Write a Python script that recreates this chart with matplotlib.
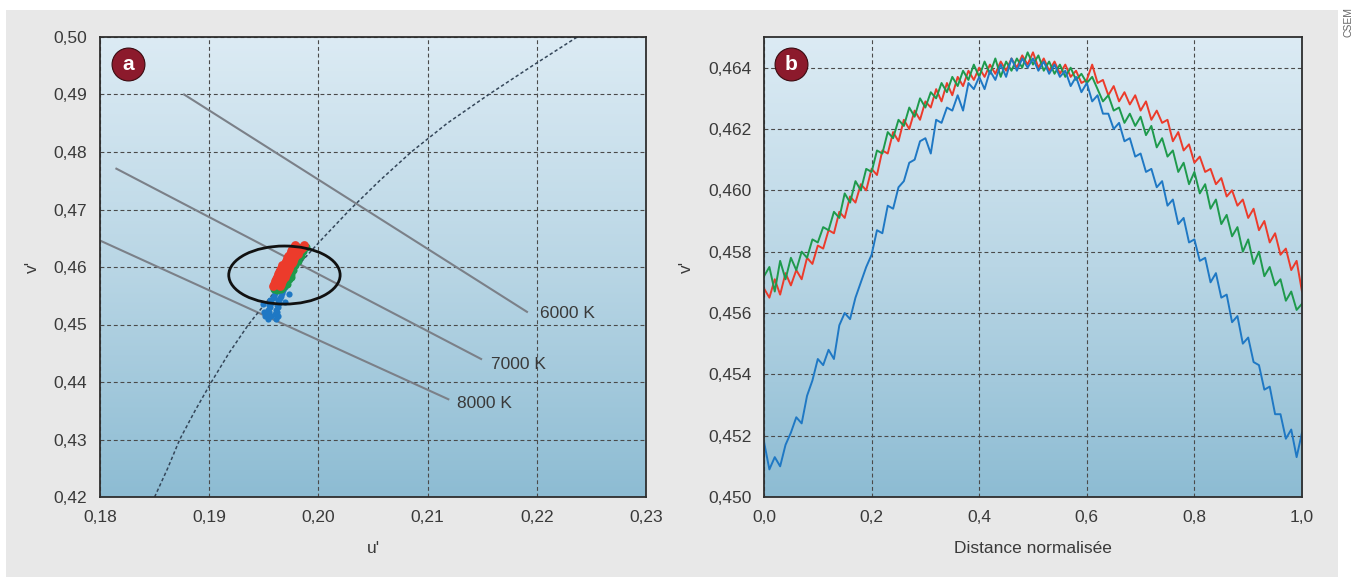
import numpy as np
import matplotlib.pyplot as plt
from matplotlib.patches import Ellipse, Rectangle
from matplotlib.ticker import FuncFormatter
from matplotlib.colors import LinearSegmentedColormap

plt.rcParams['font.family'] = ['Liberation Sans', 'DejaVu Sans']

# ---- panel a : chromaticity diagram (u', v') ----
iso_names = ['6000 K', '7000 K', '8000 K']
iso_u = [[0.1877, 0.2191], [0.1815, 0.2149], [0.1800, 0.2119]]
iso_v = [[0.4900, 0.4522], [0.4771, 0.4440], [0.4646, 0.4370]]
iso_label_u = [0.2203, 0.2158, 0.2127]
iso_label_v = [0.4520, 0.4431, 0.4362]

locus_u = [0.1850, 0.1862, 0.1873, 0.1887, 0.1902, 0.1918, 0.1936, 0.1957, 0.1980,
           0.2004, 0.2029, 0.2056, 0.2085, 0.2118, 0.2156, 0.2196, 0.2237]
locus_v = [0.4200, 0.4250, 0.4300, 0.4350, 0.4400, 0.4450, 0.4500, 0.4550, 0.4600,
           0.4650, 0.4700, 0.4750, 0.4800, 0.4850, 0.4900, 0.4950, 0.5000]

ellipse_center = (0.19689, 0.4586)
ellipse_size = (0.0102, 0.0101)

blue_u = [0.1954, 0.1961, 0.1951, 0.1957, 0.1963, 0.1953, 0.1960, 0.1955, 0.1962,
          0.1954, 0.1961, 0.1956, 0.1963, 0.1955, 0.1962, 0.1957, 0.1964, 0.1956,
          0.1963, 0.1958, 0.1965, 0.1959, 0.1966, 0.1960, 0.1967, 0.1961, 0.1968,
          0.1963, 0.1969, 0.1965, 0.1949, 0.1969, 0.1973, 0.1950]
blue_v = [0.4510, 0.4510, 0.4514, 0.4514, 0.4514, 0.4518, 0.4518, 0.4522, 0.4522,
          0.4526, 0.4526, 0.4530, 0.4530, 0.4534, 0.4534, 0.4538, 0.4538, 0.4542,
          0.4542, 0.4546, 0.4546, 0.4550, 0.4550, 0.4555, 0.4555, 0.4560, 0.4560,
          0.4566, 0.4566, 0.4572, 0.4535, 0.4540, 0.4553, 0.4522]

green_u = [0.1959, 0.1966, 0.1961, 0.1968, 0.1964, 0.1971, 0.1966, 0.1973, 0.1968,
           0.1975, 0.1970, 0.1977, 0.1972, 0.1979, 0.1974, 0.1981, 0.1976, 0.1984,
           0.1978, 0.1986, 0.1981, 0.1989, 0.1975, 0.1962]
green_v = [0.4561, 0.4561, 0.4565, 0.4565, 0.4571, 0.4571, 0.4579, 0.4579, 0.4587,
           0.4587, 0.4595, 0.4595, 0.4603, 0.4603, 0.4611, 0.4611, 0.4619, 0.4619,
           0.4627, 0.4627, 0.4635, 0.4635, 0.4583, 0.4560]

red_u = [0.1958, 0.1965, 0.1959, 0.1966, 0.1960, 0.1967, 0.1961, 0.1968, 0.1962,
         0.1969, 0.1963, 0.1970, 0.1964, 0.1971, 0.1965, 0.1972, 0.1966, 0.1973,
         0.1967, 0.1974, 0.1969, 0.1976, 0.1970, 0.1977, 0.1971, 0.1978, 0.1972,
         0.1979, 0.1974, 0.1981, 0.1975, 0.1982, 0.1976, 0.1984, 0.1978, 0.1986,
         0.1979, 0.1987]
red_v = [0.4567, 0.4567, 0.4571, 0.4571, 0.4575, 0.4575, 0.4579, 0.4579, 0.4583,
         0.4583, 0.4587, 0.4587, 0.4591, 0.4591, 0.4595, 0.4595, 0.4599, 0.4599,
         0.4603, 0.4603, 0.4607, 0.4607, 0.4611, 0.4611, 0.4615, 0.4615, 0.4619,
         0.4619, 0.4623, 0.4623, 0.4627, 0.4627, 0.4631, 0.4631, 0.4635, 0.4635,
         0.4639, 0.4639]

# ---- panel b : v' along the normalised distance ----
distance = [i / 100 for i in range(101)]
v_blue = [0.4518, 0.4509, 0.4513, 0.4510, 0.4517, 0.4521, 0.4526, 0.4524, 0.4533, 0.4538,
          0.4545, 0.4543, 0.4548, 0.4545, 0.4556, 0.4560, 0.4558, 0.4565, 0.4570, 0.4575,
          0.4579, 0.4587, 0.4586, 0.4595, 0.4594, 0.4601, 0.4603, 0.4609, 0.4610, 0.4616,
          0.4617, 0.4612, 0.4623, 0.4622, 0.4627, 0.4626, 0.4631, 0.4626, 0.4635, 0.4633,
          0.4637, 0.4633, 0.4639, 0.4636, 0.4641, 0.4637, 0.4643, 0.4639, 0.4643, 0.4640,
          0.4643, 0.4639, 0.4642, 0.4638, 0.4641, 0.4637, 0.4639, 0.4634, 0.4637, 0.4632,
          0.4635, 0.4629, 0.4631, 0.4625, 0.4625, 0.4620, 0.4622, 0.4616, 0.4617, 0.4611,
          0.4612, 0.4606, 0.4607, 0.4601, 0.4603, 0.4595, 0.4597, 0.4589, 0.4591, 0.4583,
          0.4584, 0.4577, 0.4578, 0.4570, 0.4573, 0.4565, 0.4566, 0.4557, 0.4559, 0.4550,
          0.4552, 0.4544, 0.4543, 0.4535, 0.4536, 0.4527, 0.4527, 0.4519, 0.4522, 0.4513,
          0.4521]
v_green = [0.4572, 0.4575, 0.4567, 0.4577, 0.4571, 0.4578, 0.4574, 0.4580, 0.4578, 0.4584,
           0.4583, 0.4588, 0.4587, 0.4593, 0.4591, 0.4599, 0.4596, 0.4603, 0.4600, 0.4607,
           0.4606, 0.4613, 0.4612, 0.4619, 0.4617, 0.4623, 0.4621, 0.4627, 0.4624, 0.4630,
           0.4627, 0.4632, 0.4630, 0.4635, 0.4632, 0.4637, 0.4634, 0.4639, 0.4636, 0.4641,
           0.4637, 0.4642, 0.4638, 0.4643, 0.4637, 0.4642, 0.4639, 0.4643, 0.4640, 0.4645,
           0.4641, 0.4644, 0.4639, 0.4642, 0.4638, 0.4641, 0.4637, 0.4640, 0.4636, 0.4638,
           0.4635, 0.4637, 0.4633, 0.4629, 0.4631, 0.4626, 0.4627, 0.4622, 0.4625, 0.4621,
           0.4624, 0.4618, 0.4621, 0.4614, 0.4617, 0.4611, 0.4613, 0.4606, 0.4609, 0.4602,
           0.4606, 0.4599, 0.4602, 0.4594, 0.4597, 0.4589, 0.4592, 0.4585, 0.4588, 0.4580,
           0.4584, 0.4576, 0.4580, 0.4572, 0.4575, 0.4569, 0.4571, 0.4564, 0.4567, 0.4561,
           0.4563]
v_red = [0.4568, 0.4565, 0.4571, 0.4566, 0.4573, 0.4569, 0.4574, 0.4571, 0.4578, 0.4576,
         0.4582, 0.4581, 0.4587, 0.4586, 0.4593, 0.4591, 0.4598, 0.4596, 0.4602, 0.4600,
         0.4607, 0.4605, 0.4613, 0.4612, 0.4619, 0.4616, 0.4623, 0.4620, 0.4626, 0.4623,
         0.4629, 0.4627, 0.4633, 0.4629, 0.4635, 0.4631, 0.4637, 0.4634, 0.4639, 0.4636,
         0.4640, 0.4637, 0.4641, 0.4638, 0.4642, 0.4639, 0.4643, 0.4640, 0.4644, 0.4641,
         0.4645, 0.4640, 0.4643, 0.4639, 0.4642, 0.4638, 0.4641, 0.4637, 0.4639, 0.4635,
         0.4636, 0.4641, 0.4635, 0.4636, 0.4631, 0.4634, 0.4629, 0.4632, 0.4628, 0.4631,
         0.4626, 0.4629, 0.4623, 0.4626, 0.4622, 0.4623, 0.4616, 0.4619, 0.4613, 0.4615,
         0.4609, 0.4611, 0.4606, 0.4607, 0.4602, 0.4604, 0.4598, 0.4600, 0.4595, 0.4597,
         0.4591, 0.4594, 0.4587, 0.4590, 0.4583, 0.4586, 0.4579, 0.4581, 0.4574, 0.4577,
         0.4567]

C_BLUE = '#1f78c4'
C_GREEN = '#1e9a4c'
C_RED = '#ec3b2b'
TXT = '#3a3a3a'

fig = plt.figure(figsize=(13.55, 5.77), dpi=100, facecolor='white')
# grey panel behind the two charts
fig.add_artist(Rectangle((6 / 1355, 0), 1332 / 1355, 567 / 577, transform=fig.transFigure,
                         facecolor='#e8e8e8', edgecolor='none', zorder=-5))
fig.text(1349 / 1355, 1 - 22 / 577, 'CSEM', rotation=90, fontsize=7.5, color='#666666',
         ha='center', va='center')

ax_a = fig.add_axes([100 / 1355, 80 / 577, 546 / 1355, 460 / 577])
ax_b = fig.add_axes([764 / 1355, 80 / 577, 538 / 1355, 460 / 577])

# vertical gradient, light blue on top
grad = np.linspace(0, 1, 256).reshape(-1, 1)
bg_cmap = LinearSegmentedColormap.from_list('bg', ['#8dbcd3', '#b9d6e5', '#dcebf4'])


def decorate(ax, xlim, ylim, xticks, yticks, xfmt, yfmt, letter):
    ax.imshow(grad, extent=[0, 1, 0, 1], transform=ax.transAxes, origin='lower',
              cmap=bg_cmap, aspect='auto', zorder=0)
    ax.set_xlim(*xlim)
    ax.set_ylim(*ylim)
    ax.set_xticks(xticks)
    ax.set_yticks(yticks)
    ax.xaxis.set_major_formatter(FuncFormatter(lambda x, p: format(x, xfmt).replace('.', ',')))
    ax.yaxis.set_major_formatter(FuncFormatter(lambda y, p: format(y, yfmt).replace('.', ',')))
    ax.tick_params(length=0, labelsize=12.5, labelcolor=TXT, pad=9)
    ax.grid(True, color='#4a4a4a', linestyle=(0, (3.5, 2.5)), linewidth=0.8, zorder=1)
    ax.set_axisbelow(True)
    for s in ax.spines.values():
        s.set_color('#2e2e2e')
        s.set_linewidth(1.3)
        s.set_zorder(6)
    # little round badge with the panel letter
    ax.scatter([0.051], [0.942], s=560, color='#8c1a2c', edgecolor='#3a0a10', linewidth=0.8,
               transform=ax.transAxes, zorder=8, clip_on=False)
    ax.text(0.051, 0.940, letter, transform=ax.transAxes, color='white', fontsize=15,
            fontweight='bold', ha='center', va='center', zorder=9)


decorate(ax_a, (0.18, 0.23), (0.42, 0.50), np.arange(0.18, 0.2301, 0.01),
         np.arange(0.42, 0.5001, 0.01), '.2f', '.2f', 'a')
decorate(ax_b, (0.0, 1.0), (0.450, 0.465), np.arange(0, 1.001, 0.2),
         np.arange(0.450, 0.4641, 0.002), '.1f', '.3f', 'b')

# panel a content
for uu, vv, name, lu, lv in zip(iso_u, iso_v, iso_names, iso_label_u, iso_label_v):
    ax_a.plot(uu, vv, color='#7b8088', linewidth=1.5, zorder=3)
    ax_a.text(lu, lv, name, fontsize=12.5, color=TXT, ha='left', va='center', zorder=4)

ax_a.plot(locus_u, locus_v, color='#35475a', linewidth=1.1, linestyle=(0, (2.2, 1.6)), zorder=3)
ax_a.add_patch(Ellipse(ellipse_center, ellipse_size[0], ellipse_size[1], facecolor='none',
                       edgecolor='#111111', linewidth=2, zorder=5))
ax_a.scatter(blue_u, blue_v, s=20, color=C_BLUE, linewidths=0, zorder=4)
ax_a.scatter(green_u, green_v, s=34, color=C_GREEN, linewidths=0, zorder=4)
ax_a.scatter(red_u, red_v, s=40, color=C_RED, linewidths=0, zorder=4)

ax_a.set_xlabel("u'", fontsize=12.5, color=TXT, labelpad=12)
ax_a.set_ylabel("v'", fontsize=12.5, color=TXT, labelpad=10)

# panel b content
ax_b.plot(distance, v_red, color=C_RED, linewidth=1.4, zorder=3)
ax_b.plot(distance, v_green, color=C_GREEN, linewidth=1.4, zorder=3)
ax_b.plot(distance, v_blue, color=C_BLUE, linewidth=1.4, zorder=3)

ax_b.set_xlabel('Distance normalisée', fontsize=12.5, color=TXT, labelpad=12)
ax_b.set_ylabel("v'", fontsize=12.5, color=TXT, labelpad=10)

fig.savefig('out.png', dpi=100, facecolor=fig.get_facecolor())
